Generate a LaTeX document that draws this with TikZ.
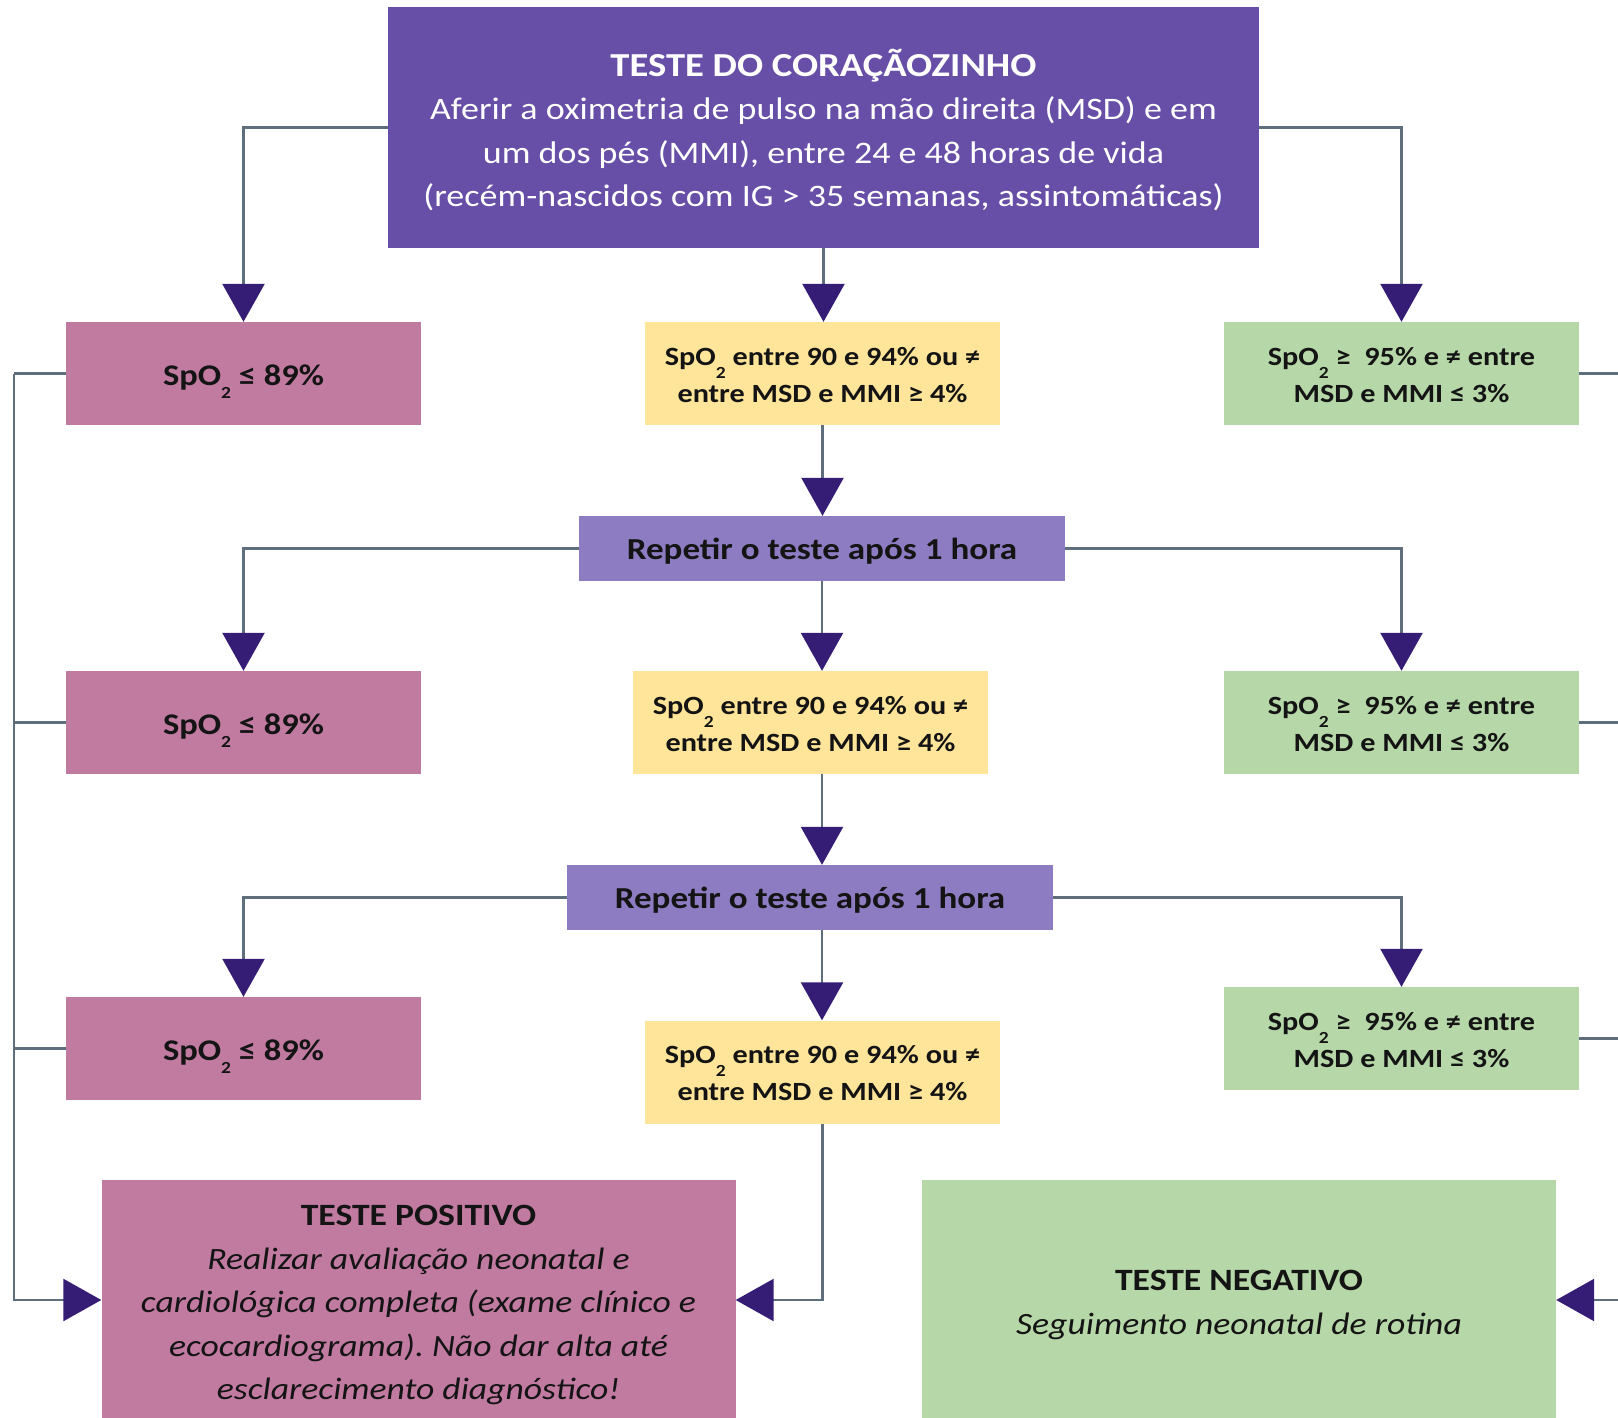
\documentclass[tikz,border=0pt]{standalone}
\usepackage{fontspec}
\setmainfont{Carlito}[FakeStretch=1.15]
\usetikzlibrary{arrows.meta}
\definecolor{topc}{HTML}{674EA7}
\definecolor{pinkc}{HTML}{C27BA0}
\definecolor{yelc}{HTML}{FFE599}
\definecolor{greenc}{HTML}{B6D7A8}
\definecolor{repc}{HTML}{8E7CC3}
\definecolor{arrowc}{HTML}{351C75}
\definecolor{linec}{HTML}{5F6E7D}
\definecolor{txtc}{HTML}{141414}
\newcommand{\spotwo}{SpO\smash{\raisebox{-13pt}{\fontsize{17}{17}\selectfont 2}}}
\newcommand{\lowtxt}[2]{\raisebox{-#1}[\height][\depth]{\begin{tabular}{@{}c@{}}#2\end{tabular}}}
\newcommand{\lowone}[2]{\raisebox{-#1}[\height][\depth]{#2}}
\frenchspacing
\begin{document}
\begin{tikzpicture}[x=1pt,y=-1pt,
  box/.style={inner sep=0pt, align=center, text=txtc, font={\bfseries\fontsize{26.3}{37}\selectfont}},
  rowbox/.style={box, minimum width=355pt, minimum height=103pt},
  pbox/.style={rowbox, fill=pinkc, font={\bfseries\fontsize{30}{37}\selectfont}},
  ybox/.style={rowbox, fill=yelc},
  gbox/.style={rowbox, fill=greenc},
  rbox/.style={box, fill=repc, minimum width=486pt, minimum height=65pt, font={\bfseries\fontsize{30.5}{37}\selectfont}},
  bigbox/.style={box, minimum width=634pt, minimum height=250pt, font={\itshape\fontsize{31}{43.5}\selectfont}},
  seg/.style={draw=linec, line width=2.5pt},
  conn/.style={seg, -{Triangle[length=38pt,width=42pt,color=arrowc]}}
]
\useasboundingbox (0,0) rectangle (1618,1418);

\node[box, fill=topc, text=white, minimum width=871pt, minimum height=241pt,
  font={\fontsize{31.3}{43.5}\selectfont}] (top) at (823.5,127.5)
  {\lowtxt{5.5pt}{{\bfseries\fontsize{33.6}{43.5}\selectfont TESTE DO CORAÇÃOZINHO}\\
   Aferir a oximetria de pulso na mão direita (MSD) e em\\
   um dos pés (MMI), entre 24 e 48 horas de vida\\
   (recém-nascidos com IG > 35 semanas, assintomáticas)}};

% row 1
\node[pbox] (p1) at (243.5,373.5) {\lowone{4pt}{\spotwo\ ≤ 89\%}};
\node[ybox] (y1) at (822.5,373.5) {\lowtxt{3pt}{\spotwo\ entre 90 e 94\% ou ≠\\ entre MSD e MMI ≥ 4\%}};
\node[gbox] (g1) at (1401.5,373.5) {\lowtxt{3pt}{\spotwo\ ≥\ \ 95\% e ≠ entre\\ MSD e MMI ≤ 3\%}};

\node[rbox] (r1) at (822,548.5) {\lowone{3pt}{Repetir o teste após 1 hora}};

% row 2
\node[pbox] (p2) at (243.5,722.5) {\lowone{4pt}{\spotwo\ ≤ 89\%}};
\node[ybox] (y2) at (810.5,722.5) {\lowtxt{3pt}{\spotwo\ entre 90 e 94\% ou ≠\\ entre MSD e MMI ≥ 4\%}};
\node[gbox] (g2) at (1401.5,722.5) {\lowtxt{3pt}{\spotwo\ ≥\ \ 95\% e ≠ entre\\ MSD e MMI ≤ 3\%}};

\node[rbox] (r2) at (810,897.5) {\lowone{3pt}{Repetir o teste após 1 hora}};

% row 3
\node[pbox] (p3) at (243.5,1048.5) {\lowone{4pt}{\spotwo\ ≤ 89\%}};
\node[ybox] (y3) at (822.5,1072) {\lowtxt{3pt}{\spotwo\ entre 90 e 94\% ou ≠\\ entre MSD e MMI ≥ 4\%}};
\node[gbox] (g3) at (1401.5,1038.5) {\lowtxt{3pt}{\spotwo\ ≥\ \ 95\% e ≠ entre\\ MSD e MMI ≤ 3\%}};

% results
\node[bigbox, fill=pinkc] (pos) at (418.5,1305)
  {{\upshape\bfseries TESTE POSITIVO}\\
   Realizar avaliação neonatal e\\
   cardiológica completa (exame clínico e\\
   ecocardiograma). Não dar alta até\\
   esclarecimento diagnóstico!};
\node[bigbox, fill=greenc] (neg) at (1239,1305)
  {{\upshape\bfseries TESTE NEGATIVO}\\
   Seguimento neonatal de rotina};

\coordinate (lft) at (14,1300);
\coordinate (rgt) at (1640,1300);

% connectors
\draw[conn] (top.west) -| (p1.north);
\draw[conn] (top.east) -| (g1.north);
\draw[conn] (top.south) -- (top.south |- y1.north);
\draw[conn] (y1.south) -- (y1.south |- r1.north);
\draw[conn] (r1.west) -| (p2.north);
\draw[conn] (r1.east) -| (g2.north);
\draw[conn] (r1.south) -- (r1.south |- y2.north);
\draw[conn] (y2.south -| r1.south) -- (r2.north -| r1.south);
\draw[conn] (r2.west) -| (p3.north);
\draw[conn] (r2.east) -| (g3.north);
\draw[conn] (r2.south -| r1.south) -- (y3.north -| r1.south);
\draw[conn] (y3.south) |- (lft -| pos.east);

\draw[seg] (p1.west) -- (p1.west -| lft);
\draw[seg] (p2.west) -- (p2.west -| lft);
\draw[seg] (p3.west) -- (p3.west -| lft);
\draw[conn] (p1.west -| lft) -- (lft) -- (lft -| pos.west);

\draw[seg] (g1.east) -- (g1.east -| rgt);
\draw[seg] (g2.east) -- (g2.east -| rgt);
\draw[seg] (g3.east) -- (g3.east -| rgt);
\draw[conn] (g1.east -| rgt) -- (rgt) -- (rgt -| neg.east);
\end{tikzpicture}
\end{document}
